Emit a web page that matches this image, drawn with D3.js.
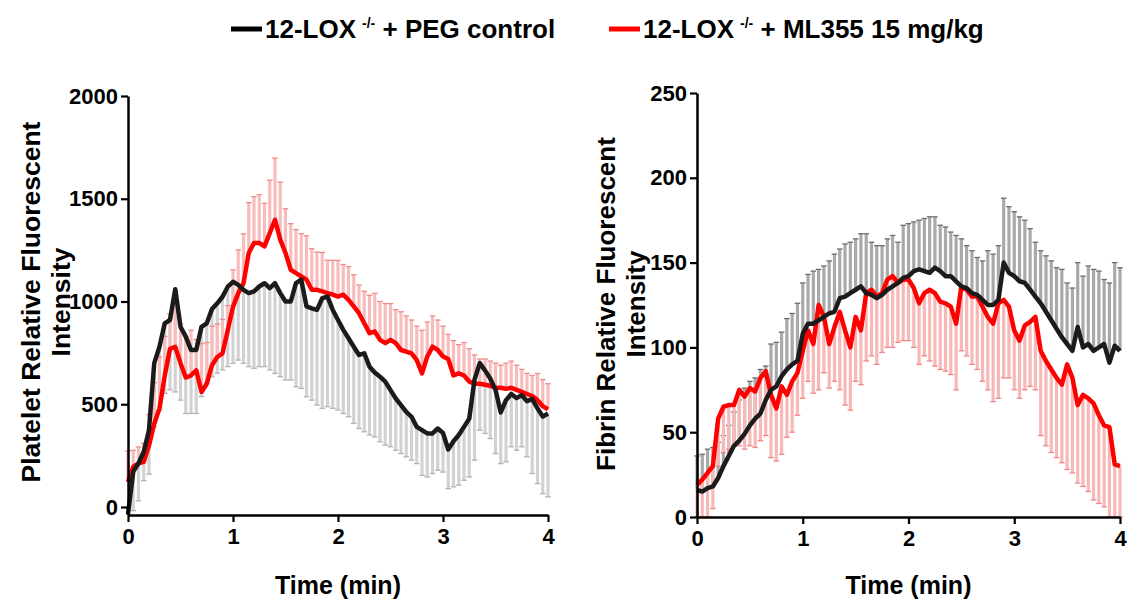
<!DOCTYPE html>
<html>
<head>
<meta charset="utf-8">
<script src="https://cdn.jsdelivr.net/npm/d3@7"></script>
<style>
  body { margin: 0; background: #fff; }
  text { font-family: "Liberation Sans", Arial, sans-serif; font-weight: bold; fill: #000; }
</style>
</head>
<body>
<svg id="chart" width="1134" height="601"></svg>
<script>
// sampling times (min)
const timeMin = [0,0.05,0.1,0.15,0.2,0.25,0.3,0.35,0.4,0.45,0.5,0.55,0.6,0.65,0.7,0.75,0.8,0.85,0.9,0.95,
  1,1.05,1.1,1.15,1.2,1.25,1.3,1.35,1.4,1.45,1.5,1.55,1.6,1.65,1.7,1.75,1.8,1.85,1.9,1.95,
  2,2.05,2.1,2.15,2.2,2.25,2.3,2.35,2.4,2.45,2.5,2.55,2.6,2.65,2.7,2.75,2.8,2.85,2.9,2.95,
  3,3.05,3.1,3.15,3.2,3.25,3.3,3.35,3.4,3.45,3.5,3.55,3.6,3.65,3.7,3.75,3.8,3.85,3.9,3.95,4]

// platelet panel
const plateletPeg = [-35,172,213,269,375,700,780,894,910,1060,
  877,829,764,764,877,894,963,991,1023,1072,
  1096,1081,1057,1041,1049,1073,1089,1065,1089,1041,
  1000,1000,1089,1106,976,967,959,1016,1024,959,
  910,862,821,780,740,748,683,654,634,610,
  569,528,496,463,439,390,374,358,358,382,
  360,280,320,350,390,430,620,700,665,625,
  570,460,520,550,530,545,515,525,480,440,455]
const plateletPegErr = [20,190,183,141,215,309,308,341,340,500,
  357,374,309,309,340,292,330,340,356,389,
  397,366,358,358,374,390,406,398,439,407,
  382,382,504,529,439,447,463,536,536,479,
  438,407,382,373,358,382,333,313,317,309,
  276,252,236,219,211,179,220,212,195,203,
  190,191,222,244,260,284,392,326,307,292,
  310,249,300,257,254,252,271,362,366,375,406]
const plateletMl = [122,196,212,220,300,405,480,640,770,779,
  700,630,640,665,560,600,690,730,748,860,
  974,1041,1089,1236,1285,1285,1268,1333,1398,1301,
  1236,1154,1138,1122,1106,1057,1057,1049,1041,1033,
  1024,1033,1008,976,943,894,846,854,813,797,
  813,797,764,756,748,715,650,732,780,764,
  732,720,640,650,640,610,600,600,595,590,
  580,580,575,580,570,560,550,540,520,490,475]
const plateletMlErr = [150,80,80,90,150,200,250,190,170,260,
  190,200,220,150,235,200,190,160,165,120,
  180,210,240,245,225,235,210,257,300,280,
  215,225,212,208,214,200,183,190,160,167,
  176,147,162,154,137,156,184,186,187,193,
  177,163,186,174,162,165,210,168,150,146,
  148,120,170,140,160,160,140,120,125,120,
  120,110,125,130,120,110,100,100,130,130,125]

// fibrin panel
const fibrinPeg = [16,15,17,18,23,30,36,42,45,49,
  54,58,61,69,75,77,83,87,90,92,
  108,114,114,116,118,120,121,129,130,132,
  134,136,132,131,129,131,134,136,138,141,
  142,145,146,145,144,147,145,142,142,139,
  136,135,132,131,128,125,125,128,150,144,
  142,139,138,134,130,126,121,116,111,106,
  102,98,112,100,102,98,100,102,91,101,98]
const fibrinPegErr = [20,22,23,23,21,18,18,20,24,27,
  26,24,26,20,27,26,26,30,30,34,
  30,29,31,30,30,31,34,29,31,30,
  30,31,35,31,31,29,30,30,24,31,
  31,29,29,31,33,30,27,29,26,27,
  28,25,25,22,23,32,30,32,38,39,
  38,38,37,36,32,31,33,35,36,40,
  36,37,38,42,46,48,45,38,47,49,49]
const fibrinMl = [19,22,26,30,58,65,66,66,75,71,
  76,74,82,86,72,64,77,72,80,85,
  98,110,102,125,118,102,112,121,110,100,
  118,110,132,134,130,132,140,142,138,140,
  140,135,126,132,134,132,127,126,124,114,
  136,134,130,130,124,118,114,126,128,124,
  110,104,113,115,118,98,92,87,82,78,
  90,82,66,72,70,67,60,54,53,31,30]
const fibrinMlErr = [19,22,26,25,28,27,26,24,33,31,
  34,33,37,38,37,31,40,25,30,25,
  28,30,29,50,33,26,32,46,44,37,
  38,32,40,39,40,35,40,42,35,36,
  36,35,36,37,42,43,40,40,40,39,
  38,39,40,43,44,43,46,56,46,42,
  35,34,38,38,43,50,50,49,47,46,
  62,56,46,54,55,57,52,48,53,31,30]

const xTicks = [0, 1, 2, 3, 4]
const plateletTicks = [0, 500, 1000, 1500, 2000]
const fibrinTicks = [0, 50, 100, 150, 200, 250]
const legendNames = ["12-LOX", "12-LOX"]
const legendTails = [" + PEG control", " + ML355 15 mg/kg"]

const svg = d3.select("#chart")

function drawPanel(cfg) {
  const x = d3.scaleLinear().domain([0, 4]).range(cfg.xRange)
  const y = d3.scaleLinear().domain(cfg.yDomain).range(cfg.yRange)
  const g = svg.append("g")
  const bottom = cfg.axisY, top = cfg.yRange[1]

  // error bars, one side only
  cfg.bars.forEach(b => {
    const eg = g.append("g")
    timeMin.forEach((t, i) => {
      const v = b.values[i]
      const end = b.dir > 0 ? v + b.err[i] : v - b.err[i]
      const y0 = Math.min(bottom, y(v))
      const y1 = Math.max(top, Math.min(bottom, y(end)))
      eg.append("line")
        .attr("x1", x(t)).attr("x2", x(t))
        .attr("y1", y0).attr("y2", y1)
        .attr("stroke", b.color).attr("stroke-width", 3.2)
      if (y(end) <= bottom) {
        eg.append("line")
          .attr("x1", x(t) - 2.8).attr("x2", x(t) + 2.8)
          .attr("y1", y1).attr("y2", y1)
          .attr("stroke", b.cap).attr("stroke-width", 1.3)
      }
    })
  })

  // lines
  const line = d3.line()
    .x((d, i) => x(timeMin[i]))
    .y(d => Math.min(bottom, y(d)))
  cfg.lines.forEach(l => {
    g.append("path")
      .datum(l.values)
      .attr("d", line)
      .attr("fill", "none")
      .attr("stroke", l.color)
      .attr("stroke-width", 4.5)
      .attr("stroke-linejoin", "round")
  })

  // axes
  const yAxis = g.append("g")
    .attr("transform", `translate(${cfg.xRange[0]},0)`)
    .call(d3.axisLeft(y).tickValues(cfg.yTicks).tickFormat(d3.format("d")).tickSize(7).tickPadding(3).tickSizeOuter(0))
  const xAxis = g.append("g")
    .attr("transform", `translate(0,${cfg.axisY})`)
    .call(d3.axisBottom(x).tickValues(xTicks).tickFormat(d3.format("d")).tickSize(7).tickPadding(6).tickSizeOuter(0))
  g.append("line")
    .attr("x1", cfg.xRange[0]).attr("x2", cfg.xRange[0])
    .attr("y1", cfg.yRange[0]).attr("y2", cfg.axisY)
    .attr("stroke", "#000").attr("stroke-width", 2.5)
  ;[yAxis, xAxis].forEach(a => {
    a.select(".domain").attr("stroke-width", 2.5)
    a.selectAll(".tick line").attr("stroke-width", 2.2)
    a.selectAll(".tick text")
      .style("font-family", '"Liberation Sans", Arial, sans-serif')
      .style("font-weight", "bold")
      .style("font-size", "22px")
      .attr("fill", "#000")
  })

  // axis titles
  g.append("text")
    .attr("x", d3.mean(cfg.xRange)).attr("y", 594)
    .attr("text-anchor", "middle")
    .style("font-size", "25px")
    .text("Time (min)")
  cfg.yTitle.forEach((s, i) => {
    g.append("text")
      .attr("transform", `translate(${cfg.yTitleX[i]},${cfg.yTitleMid}) rotate(-90)`)
      .attr("text-anchor", "middle")
      .style("font-size", cfg.yTitleSize)
      .text(s)
  })
}

drawPanel({
  xRange: [128, 548], yDomain: [0, 2000], yRange: [507, 96], axisY: 515,
  yTicks: plateletTicks,
  yTitle: ["Platelet Relative Fluorescent", "Intensity"], yTitleX: [40, 70], yTitleMid: 302,
  yTitleSize: "26.5px",
  bars: [
    { values: plateletPeg, err: plateletPegErr, dir: -1, color: "#d2d2d2", cap: "#b4b4b4" },
    { values: plateletMl, err: plateletMlErr, dir: 1, color: "#f9bcbc", cap: "#f08c8c" }
  ],
  lines: [
    { values: plateletMl, color: "#ff0000" },
    { values: plateletPeg, color: "#1b1b1b" }
  ]
})

drawPanel({
  xRange: [697, 1120], yDomain: [0, 250], yRange: [517, 93], axisY: 517,
  yTicks: fibrinTicks,
  yTitle: ["Fibrin Relative Fluorescent", "Intensity"], yTitleX: [615, 645], yTitleMid: 304,
  yTitleSize: "26px",
  bars: [
    { values: fibrinPeg, err: fibrinPegErr, dir: 1, color: "#a9a9a9", cap: "#6e6e6e" },
    { values: fibrinMl, err: fibrinMlErr, dir: -1, color: "#f9b8b8", cap: "#f08888" }
  ],
  lines: [
    { values: fibrinMl, color: "#ff0000" },
    { values: fibrinPeg, color: "#1b1b1b" }
  ]
})

// legend
const legendX = [231, 609]
const legendColors = ["#000", "#ff0000"]
legendNames.forEach((name, i) => {
  svg.append("line")
    .attr("x1", legendX[i]).attr("x2", legendX[i] + 31)
    .attr("y1", 29).attr("y2", 29)
    .attr("stroke", legendColors[i]).attr("stroke-width", 5)
  const t = svg.append("text")
    .attr("x", legendX[i] + 34).attr("y", 38)
    .style("font-size", "26px")
  t.append("tspan").text(name)
  t.append("tspan").attr("dx", 6).attr("dy", -10).style("font-size", "14px").text("-/-")
  t.append("tspan").attr("dy", 10).text(legendTails[i])
})
</script>
</body>
</html>
